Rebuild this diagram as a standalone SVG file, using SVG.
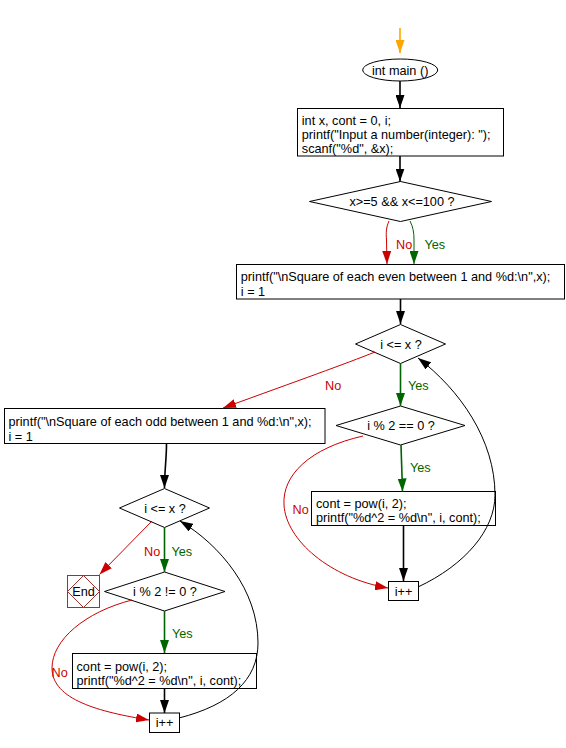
<svg xmlns="http://www.w3.org/2000/svg" width="566" height="748" viewBox="0 0 566 748">
<style>
text{font-family:"Liberation Sans",Arial,sans-serif;font-size:12.7px;fill:#000}
.c{text-anchor:middle}
.box{fill:#fff;stroke:#000;stroke-width:1}
.k{fill:none;stroke:#000;stroke-width:1}
.kb{fill:none;stroke:#000;stroke-width:1.6}
.r{fill:none;stroke:#cc0000;stroke-width:1}
.g{fill:none;stroke:#006400;stroke-width:1.6}
.g1{fill:none;stroke:#006400;stroke-width:1}
.o{fill:none;stroke:#ffa500;stroke-width:1.6}
text.no{fill:#cc0000}
text.yes{fill:#006400}
.end{fill:#fff;stroke:#a03030;stroke-width:1}
</style>
<defs>
<marker id="ak" viewBox="0 0 13 9" refX="13" refY="4.5" markerWidth="13" markerHeight="9" markerUnits="userSpaceOnUse" orient="auto"><path d="M0,0 L13,4.5 L0,9 z" fill="#000"/></marker>
<marker id="ar" viewBox="0 0 13 9" refX="13" refY="4.5" markerWidth="13" markerHeight="9" markerUnits="userSpaceOnUse" orient="auto"><path d="M0,0 L13,4.5 L0,9 z" fill="#cc0000"/></marker>
<marker id="ag" viewBox="0 0 13 9" refX="13" refY="4.5" markerWidth="13" markerHeight="9" markerUnits="userSpaceOnUse" orient="auto"><path d="M0,0 L13,4.5 L0,9 z" fill="#006400"/></marker>
<marker id="ao" viewBox="0 0 13 9" refX="13" refY="4.5" markerWidth="13" markerHeight="9" markerUnits="userSpaceOnUse" orient="auto"><path d="M0,0 L13,4.5 L0,9 z" fill="#ffa500"/></marker>
</defs>

<g id="start">
<ellipse class="box" cx="400.2" cy="70" rx="37.5" ry="11"/>
<text class="c" x="400.2" y="74.5">int main ()</text>
</g>

<g id="init">
<rect class="box" x="297.5" y="108.5" width="206" height="47.5"/>
<text x="301.8" y="124.6">int x, cont = 0, i;</text>
<text x="301.8" y="138.8">printf("Input a number(integer): ");</text>
<text x="301.8" y="153">scanf("%d", &amp;x);</text>
</g>

<g id="check-range">
<polygon class="box" points="309.5,201.5 400.5,181.5 491.5,201.5 400.5,221.5"/>
<text class="c" x="402" y="206">x&gt;=5 &amp;&amp; x&lt;=100 ?</text>
</g>

<g id="even-init">
<rect class="box" x="236.5" y="264.5" width="328" height="34.5"/>
<text x="240.8" y="281.3">printf("\nSquare of each even between 1 and %d:\n",x);</text>
<text x="240.8" y="295.5">i = 1</text>
</g>

<g id="even-loop">
<polygon class="box" points="355.5,344 400.5,324.5 445.5,344 400.5,363.5"/>
<text class="c" x="401" y="348.5">i &lt;= x ?</text>
</g>

<g id="even-check">
<polygon class="box" points="336,425.5 400.5,406 465,425.5 400.5,445"/>
<text class="c" x="401" y="430">i % 2 == 0 ?</text>
</g>

<g id="even-print">
<rect class="box" x="311.5" y="491.5" width="184" height="34"/>
<text x="316" y="508">cont = pow(i, 2);</text>
<text x="316" y="522.2">printf("%d^2 = %d\n", i, cont);</text>
</g>

<g id="even-inc">
<rect class="box" x="388.5" y="581.5" width="30" height="19"/>
<text class="c" x="403.5" y="595.5">i++</text>
</g>

<g id="odd-init">
<rect class="box" x="4.5" y="408.5" width="320.5" height="35"/>
<text x="8.5" y="426.3">printf("\nSquare of each odd between 1 and %d:\n",x);</text>
<text x="8.5" y="440.5">i = 1</text>
</g>

<g id="odd-loop">
<polygon class="box" points="119.5,508 164.5,488.5 209.5,508 164.5,527.5"/>
<text class="c" x="165" y="512.5">i &lt;= x ?</text>
</g>

<g id="end">
<rect class="end" x="67.5" y="575.5" width="32" height="32"/>
<polygon class="end" points="83.5,575.5 99.5,591.5 83.5,607.5 67.5,591.5"/>
<text class="c" x="83.5" y="596">End</text>
</g>

<g id="odd-check">
<polygon class="box" points="104.5,591.5 164.5,572 225,591.5 164.5,611"/>
<text class="c" x="165" y="596">i % 2 != 0 ?</text>
</g>

<g id="odd-print">
<rect class="box" x="72.5" y="653.5" width="184" height="35"/>
<text x="76.5" y="670.6">cont = pow(i, 2);</text>
<text x="76.5" y="684.8">printf("%d^2 = %d\n", i, cont);</text>
</g>

<g id="odd-inc">
<rect class="box" x="149.5" y="713" width="30" height="19.5"/>
<text class="c" x="164.5" y="727">i++</text>
</g>

<g id="connectors">
<path class="o" d="M400,28 L400,53" marker-end="url(#ao)"/>
<path class="kb" d="M400,81 L400,108" marker-end="url(#ak)"/>
<path class="kb" d="M400,156 L400,181.5" marker-end="url(#ak)"/>
<path class="r" d="M389,221 C386,228 386,232 386.5,240 L387,264" marker-end="url(#ar)"/>
<path class="g1" d="M410,221 C413,227 414,232 414,240 L414,264" marker-end="url(#ag)"/>
<path class="kb" d="M400.5,299 L400.5,324" marker-end="url(#ak)"/>
<path class="g" d="M400.5,363.5 L400.5,406" marker-end="url(#ag)"/>
<path class="g" d="M401,445 L402.5,491.5" marker-end="url(#ag)"/>
<path class="kb" d="M403.5,526 L403.5,581" marker-end="url(#ak)"/>
<path class="r" d="M363,436 C310,448 282,475 284,505 C286,540 330,578 388,588" marker-end="url(#ar)"/>
<path class="k" d="M418,587 C465,565 495,530 495,495 C495,440 460,390 418,358" marker-end="url(#ak)"/>
<path class="r" d="M375,352 C345,364 300,380 223,408" marker-end="url(#ar)"/>
<path class="kb" d="M166.5,443.5 C166.5,460 164.5,470 164.5,488" marker-end="url(#ak)"/>
<path class="r" d="M152,521 L99.5,574.5" marker-end="url(#ar)"/>
<path class="g" d="M164.5,527.5 L164.5,572" marker-end="url(#ag)"/>
<path class="g" d="M164.5,611 L164.5,653" marker-end="url(#ag)"/>
<path class="kb" d="M164.5,688.5 L164.5,713" marker-end="url(#ak)"/>
<path class="r" d="M132,600 C85,612 52,640 52,668 C52,700 100,712 149,720" marker-end="url(#ar)"/>
<path class="k" d="M179,718 C230,705 258,680 258,643 C258,590 220,545 180,521" marker-end="url(#ak)"/>
<text class="no" x="396" y="248.5">No</text>
<text class="yes" x="424.5" y="248.5">Yes</text>
<text class="no" x="325" y="390">No</text>
<text class="yes" x="408" y="390">Yes</text>
<text class="yes" x="410" y="472">Yes</text>
<text class="no" x="292.5" y="514">No</text>
<text class="no" x="144" y="556">No</text>
<text class="yes" x="171.5" y="556">Yes</text>
<text class="yes" x="172" y="638">Yes</text>
<text class="no" x="51.5" y="677">No</text>
</g>
</svg>
